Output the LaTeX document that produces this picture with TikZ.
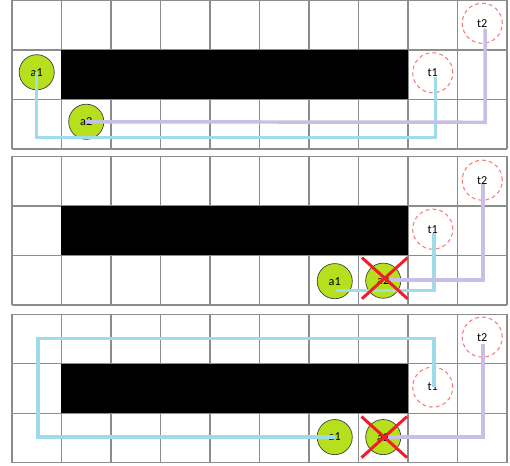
\documentclass[tikz,border=0pt]{standalone}
\usepackage{fontspec}
\setmainfont{Carlito}
\usetikzlibrary{shapes.misc}

\definecolor{agentgreen}{RGB}{182,224,30}
\definecolor{routeblue}{RGB}{158,220,235}
\definecolor{routepurple}{RGB}{200,190,230}
\definecolor{targetred}{RGB}{250,120,120}
\definecolor{crossred}{RGB}{240,30,40}

\tikzset{
  gridline/.style={draw=gray!90, line width=0.75pt},
  agent/.style={circle, draw=black!75, line width=0.4pt, fill=agentgreen,
    minimum size=0.71cm, inner sep=0pt, font=\fontsize{7}{8}\selectfont},
  target/.style={circle, draw=targetred, dash pattern=on 2.2pt off 1.8pt,
    line width=0.6pt, minimum size=0.81cm, inner sep=0pt,
    font=\fontsize{7}{8}\selectfont},
  route1/.style={draw=routeblue, line width=2pt},
  route2/.style={draw=routepurple, line width=2pt},
  blocked/.style={cross out, draw=crossred, line width=1.7pt,
    minimum width=0.86cm, minimum height=0.77cm, inner sep=0pt},
}

\begin{document}
\begin{tikzpicture}[x=1cm, y=-1cm]
  \useasboundingbox (-0.242,-0.01) rectangle (10.061,9.394);

  % grilles des trois etats
  \foreach \oy in {0, 3.15, 6.34} {
    \foreach \i in {0,...,10}
      \draw[gridline] (\i,\oy) -- (\i,\oy+3);
    \foreach \j in {0,...,3}
      \draw[gridline] (0,\oy+\j) -- (10,\oy+\j);
    \fill[black] (1,\oy+1) rectangle (8,\oy+2);
  }

  % etat 1
  \node[agent] (a1p1) at (0.5,1.45) {a1};
  \node[agent] (a2p1) at (1.5,2.45) {a2};
  \node[target] (t1p1) at (8.5,1.46) {t1};
  \node[target] (t2p1) at (9.5,0.46) {t2};

  \coordinate (r1p1) at (8.56,2.77);
  \coordinate (e1p1) at (8.56,1.55);
  \coordinate (r2p1) at (9.56,2.46);
  \coordinate (e2p1) at (9.56,0.57);
  \draw[route1] (a1p1.center) |- (r1p1) -- (e1p1);
  \draw[route2] (a2p1.center) -- (r2p1) -- (e2p1);

  % etat 2
  \node[agent] (a1p2) at (6.52,5.67) {a1};
  \node[agent] (a2p2) at (7.5,5.66) {a2};
  \node[target] (t1p2) at (8.5,4.62) {t1};
  \node[target] (t2p2) at (9.5,3.63) {t2};

  \coordinate (s1p2) at (6.55,5.86);
  \coordinate (r1p2) at (8.53,5.86);
  \coordinate (e1p2) at (8.53,4.70);
  \coordinate (s2p2) at (7.64,5.65);
  \coordinate (r2p2) at (9.52,5.65);
  \coordinate (e2p2) at (9.52,3.70);
  \draw[route1] (s1p2) -- (r1p2) -- (e1p2);
  \draw[route2] (s2p2) -- (r2p2) -- (e2p2);
  \node[blocked] (x2p2) at (7.53,5.61) {};

  % etat 3
  \node[agent] (a1p3) at (6.52,8.82) {a1};
  \node[agent] (a2p3) at (7.5,8.82) {a2};
  \node[target] (t1p3) at (8.5,7.81) {t1};
  \node[target] (t2p3) at (9.5,6.80) {t2};

  \coordinate (r1p3) at (0.525,8.82);
  \coordinate (u1p3) at (0.525,6.825);
  \coordinate (v1p3) at (8.53,6.825);
  \coordinate (e1p3) at (8.53,7.81);
  \coordinate (s2p3) at (7.6,8.82);
  \coordinate (r2p3) at (9.52,8.82);
  \coordinate (e2p3) at (9.52,6.93);
  \draw[route1] (a1p3.center) -- (r1p3) -- (u1p3) -- (v1p3) -- (e1p3);
  \draw[route2] (s2p3) -- (r2p3) -- (e2p3);
  \node[blocked] (x2p3) at (7.52,8.82) {};
\end{tikzpicture}
\end{document}
